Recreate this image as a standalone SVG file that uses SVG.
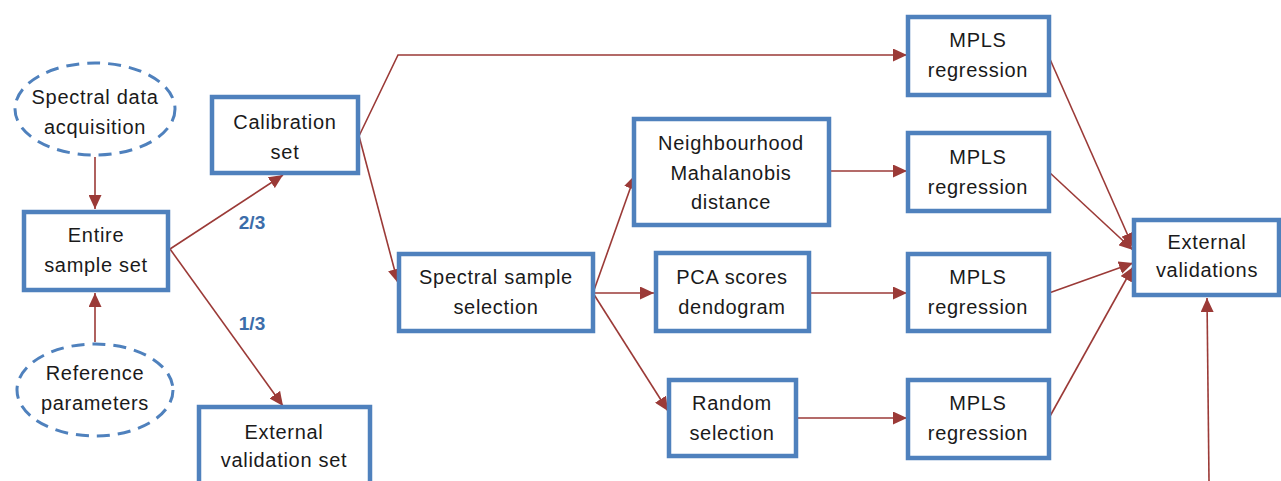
<svg xmlns="http://www.w3.org/2000/svg" width="1281" height="481" viewBox="0 0 1281 481">
<style>
.box{fill:#fff;stroke:#4F81BD;stroke-width:4.5}
.ell{fill:#fff;stroke:#4F81BD;stroke-width:3;stroke-dasharray:13 8}
.t{font-family:"Liberation Sans",Arial,sans-serif;font-size:20px;letter-spacing:0.7px;fill:#1a1a1a;text-anchor:middle}
.lbl{font-family:"Liberation Sans",Arial,sans-serif;font-size:19px;font-weight:bold;fill:#3C6DAA;text-anchor:middle}
.c{fill:none;stroke:#9B3A37;stroke-width:1.6}
</style>
<defs>
<marker id="ah" markerUnits="userSpaceOnUse" markerWidth="14" markerHeight="13" refX="14" refY="6.5" orient="auto">
<path d="M0,0 L14,6.5 L0,13 z" fill="#9B3A37"/>
</marker>
</defs>
<g id="connectors">
<line class="c" x1="95" y1="157" x2="95" y2="209" marker-end="url(#ah)"/>
<line class="c" x1="95" y1="342" x2="95" y2="293" marker-end="url(#ah)"/>
<line class="c" x1="170" y1="249" x2="283" y2="175" marker-end="url(#ah)"/>
<line class="c" x1="170" y1="249" x2="283" y2="406" marker-end="url(#ah)"/>
<polyline class="c" points="359,136 398,55 907,55" marker-end="url(#ah)"/>
<line class="c" x1="359" y1="136" x2="398" y2="283" marker-end="url(#ah)"/>
<line class="c" x1="593" y1="293" x2="635" y2="175" marker-end="url(#ah)"/>
<line class="c" x1="593" y1="293" x2="654" y2="293" marker-end="url(#ah)"/>
<line class="c" x1="593" y1="293" x2="668" y2="411" marker-end="url(#ah)"/>
<line class="c" x1="831" y1="171" x2="907" y2="171" marker-end="url(#ah)"/>
<line class="c" x1="811" y1="293" x2="907" y2="293" marker-end="url(#ah)"/>
<line class="c" x1="798" y1="418" x2="907" y2="418" marker-end="url(#ah)"/>
<line class="c" x1="1049" y1="57" x2="1133" y2="247" marker-end="url(#ah)"/>
<line class="c" x1="1049" y1="172" x2="1133" y2="250" marker-end="url(#ah)"/>
<line class="c" x1="1049" y1="293" x2="1133" y2="263" marker-end="url(#ah)"/>
<line class="c" x1="1049" y1="418" x2="1133" y2="267" marker-end="url(#ah)"/>
<line class="c" x1="1209" y1="481" x2="1207" y2="298" marker-end="url(#ah)"/>
<text class="lbl" x="252" y="229">2/3</text>
<text class="lbl" x="252" y="330">1/3</text>
</g>
<g id="spectral-data">
<ellipse class="ell" cx="95" cy="109" rx="80" ry="46"/>
<text class="t" x="95" y="104">Spectral data</text>
<text class="t" x="95" y="134">acquisition</text>
</g>
<g id="reference-parameters">
<ellipse class="ell" cx="95" cy="390" rx="78" ry="46"/>
<text class="t" x="95" y="380">Reference</text>
<text class="t" x="95" y="410">parameters</text>
</g>
<g id="entire">
<rect class="box" x="24" y="212" width="144" height="78"/>
<text class="t" x="96" y="242">Entire</text>
<text class="t" x="96" y="272">sample set</text>
</g>
<g id="calibration">
<rect class="box" x="212" y="97" width="146" height="76"/>
<text class="t" x="285" y="129">Calibration</text>
<text class="t" x="285" y="159">set</text>
</g>
<g id="external-set">
<rect class="box" x="199" y="407" width="171" height="90"/>
<text class="t" x="284" y="439">External</text>
<text class="t" x="284" y="467">validation set</text>
</g>
<g id="spectral-selection">
<rect class="box" x="399" y="254" width="194" height="77"/>
<text class="t" x="496" y="284">Spectral sample</text>
<text class="t" x="496" y="314">selection</text>
</g>
<g id="neighbourhood">
<rect class="box" x="634" y="119" width="195" height="106"/>
<text class="t" x="731" y="150">Neighbourhood</text>
<text class="t" x="731" y="180">Mahalanobis</text>
<text class="t" x="731" y="209">distance</text>
</g>
<g id="pca">
<rect class="box" x="656" y="253" width="153" height="78"/>
<text class="t" x="732" y="284">PCA scores</text>
<text class="t" x="732" y="314">dendogram</text>
</g>
<g id="random">
<rect class="box" x="669" y="380" width="127" height="76"/>
<text class="t" x="732" y="410">Random</text>
<text class="t" x="732" y="440">selection</text>
</g>
<g id="mpls1">
<rect class="box" x="908" y="17" width="141" height="78"/>
<text class="t" x="978" y="47">MPLS</text>
<text class="t" x="978" y="77">regression</text>
</g>
<g id="mpls2">
<rect class="box" x="908" y="133" width="141" height="78"/>
<text class="t" x="978" y="164">MPLS</text>
<text class="t" x="978" y="194">regression</text>
</g>
<g id="mpls3">
<rect class="box" x="908" y="254" width="141" height="77"/>
<text class="t" x="978" y="284">MPLS</text>
<text class="t" x="978" y="314">regression</text>
</g>
<g id="mpls4">
<rect class="box" x="908" y="380" width="141" height="78"/>
<text class="t" x="978" y="410">MPLS</text>
<text class="t" x="978" y="440">regression</text>
</g>
<g id="external-validations">
<rect class="box" x="1134" y="220" width="145" height="75"/>
<text class="t" x="1207" y="249">External</text>
<text class="t" x="1207" y="277">validations</text>
</g>
</svg>
